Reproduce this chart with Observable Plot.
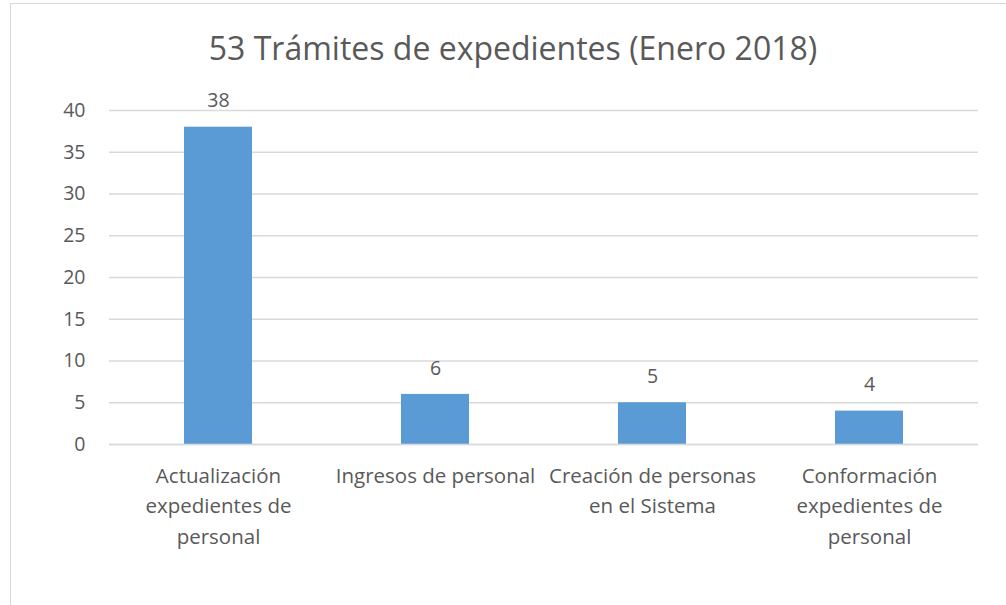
<!DOCTYPE html>
<html>
<head>
<meta charset="utf-8">
<script src="https://cdn.jsdelivr.net/npm/d3@7"></script>
<script src="https://cdn.jsdelivr.net/npm/@observablehq/plot@0.6"></script>
<style>
  html, body { margin: 0; padding: 0; background: #fff; overflow: hidden; }
  body { width: 1006px; height: 605px; position: relative; font-family: "Open Sans", sans-serif; }
  #frame { position: absolute; left: 10px; top: 3px; width: 1100px; height: 700px; border: 1px solid #d9d9d9; box-sizing: border-box; }
  #title { position: relative; height: 85px; box-sizing: border-box; padding-top: 32px; padding-left: 20px; width: 1006px; text-align: center; font-size: 32px; line-height: 32px; color: #595959; white-space: nowrap; }
  #chart { position: relative; }
</style>
</head>
<body>
<div id="frame"></div>
<div id="title">53 Trámites de expedientes (Enero 2018)</div>
<div id="chart"></div>
<script>
const categories = ["Actualización expedientes de personal", "Ingresos de personal", "Creación de personas en el Sistema", "Conformación expedientes de personal"];
const categoryLabels = ["Actualización\nexpedientes de\npersonal", "Ingresos de personal", "Creación de personas\nen el Sistema", "Conformación\nexpedientes de\npersonal"];
const values = [38, 6, 5, 4];
const yTicks = [0, 5, 10, 15, 20, 25, 30, 35, 40];

const data = categories.map((c, i) => ({cat: c, label: categoryLabels[i], value: values[i]}));

const font = "'Open Sans', sans-serif";
const chart = Plot.plot({
  width: 1006,
  height: 520,
  marginTop: 25,
  marginBottom: 161,
  marginLeft: 109,
  marginRight: 28,
  style: {fontFamily: font, background: "transparent"},
  x: {domain: categories, paddingInner: 0.687, paddingOuter: 0.3435, axis: null},
  y: {domain: [0, 40], axis: null},
  marks: [
    Plot.ruleY(yTicks, {stroke: "#d9d9d9", strokeWidth: 1.3}),
    Plot.barY(data, {x: "cat", y: "value", fill: "#5b9bd5"}),
    Plot.ruleY([0], {stroke: "#d9d9d9", strokeWidth: 1.3}),
    Plot.axisY({ticks: yTicks, tickSize: 0, tickPadding: 24, fontSize: 19.5, fill: "#595959", label: null}),
    Plot.text(data, {x: "cat", y: "value", text: d => String(d.value), dy: -26, fontSize: 19.5, fill: "#595959"}),
    Plot.text(data, {x: "cat", y: () => 0, text: "label", lineAnchor: "top", dy: 17, fontSize: 20.5, lineHeight: 1.48, fill: "#595959"})
  ]
});
document.getElementById("chart").appendChild(chart);
</script>
</body>
</html>
